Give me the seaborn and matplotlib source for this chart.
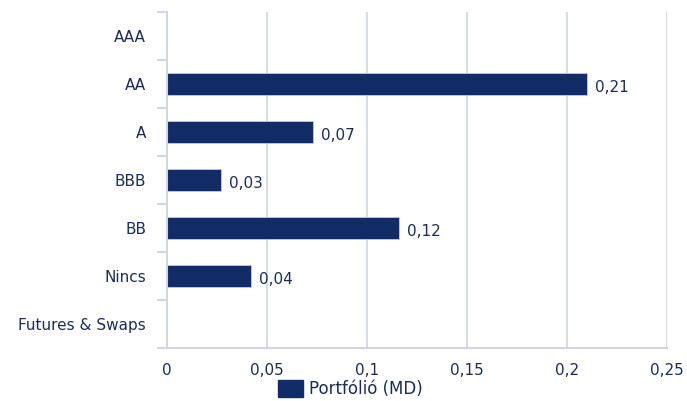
import numpy as np
import pandas as pd
import matplotlib
matplotlib.use('Agg')
import matplotlib.pyplot as plt
from matplotlib.patches import Patch
import seaborn as sns

# adatok
kategoriak = ['AAA', 'AA', 'A', 'BBB', 'BB', 'Nincs', 'Futures & Swaps']
ertekek = [0.0, 0.21, 0.073, 0.027, 0.116, 0.042, 0.0]
x_ticks = [0, 0.05, 0.1, 0.15, 0.2, 0.25]
x_labels = ['0', '0,05', '0,1', '0,15', '0,2', '0,25']

bar_color = '#112c66'
text_color = '#1b2c5c'
grid_color = '#cdd7e5'

df = pd.DataFrame({'kategoria': kategoriak, 'ertek': ertekek})

sns.set_style('white')
plt.rcParams['font.family'] = ['DejaVu Sans']

fig = plt.figure(figsize=(6.87, 4.01), dpi=100)
ax = fig.add_axes([0.243, 0.132, 0.728, 0.838])

sns.barplot(data=df, x='ertek', y='kategoria', orient='h', color=bar_color,
            saturation=1, width=0.45, edgecolor='#c3cbdc', linewidth=0.6, ax=ax)

ax.set_xlim(0, 0.25)
ax.set_ylim(6.5, -0.5)
ax.set_xticks(x_ticks)
ax.set_xticklabels(x_labels, fontsize=11, color=text_color)
ax.set_yticklabels(kategoriak, fontsize=11, color=text_color)
ax.set_xlabel('')
ax.set_ylabel('')

# rácsvonalak
ax.xaxis.grid(True, color=grid_color, linewidth=1.2)
ax.set_axisbelow(True)
for s in ['top', 'right']:
    ax.spines[s].set_visible(False)
for s in ['left', 'bottom']:
    ax.spines[s].set_color(grid_color)
    ax.spines[s].set_linewidth(1.5)

ax.tick_params(axis='x', length=0, pad=11)
ax.tick_params(axis='y', which='major', length=0, pad=15)
ax.set_yticks(np.arange(-0.5, 7, 1), minor=True)
ax.tick_params(axis='y', which='minor', left=True, length=7, width=1.5, color=grid_color)

# értékcímkék
for i, v in enumerate(ertekek):
    if v > 0:
        ax.text(v + 0.004, i + 0.08, f'{v:.2f}'.replace('.', ','),
                va='center', ha='left', fontsize=11, color=text_color)

fig.legend(handles=[Patch(facecolor=bar_color, edgecolor=bar_color)],
           labels=['Portfólió (MD)'], loc='center', bbox_to_anchor=(0.51, 0.03),
           frameon=False, fontsize=12, handlelength=1.5, handleheight=1.2,
           handletextpad=0.4, labelcolor=text_color)

fig.savefig('out.png', dpi=100)
